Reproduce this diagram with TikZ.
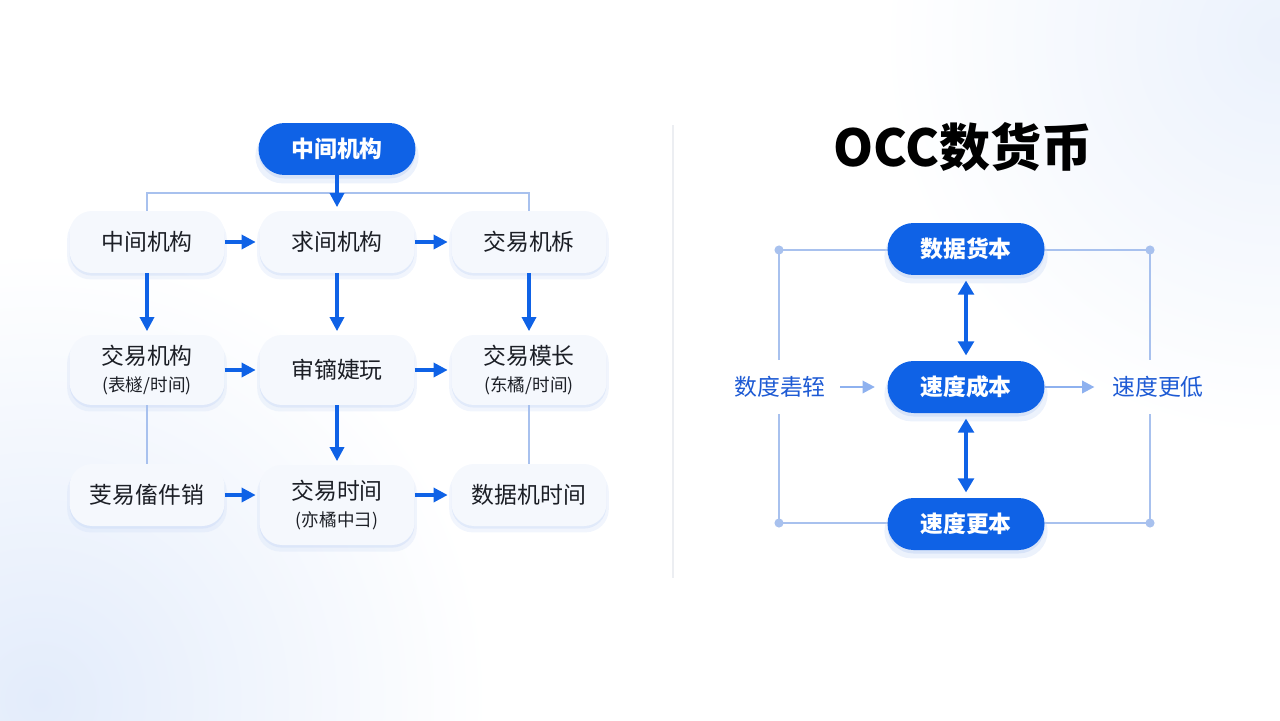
\documentclass[tikz,border=0pt]{standalone}
\usepackage{fontspec}
\setmainfont{Noto Sans CJK SC}
\usepackage{xcolor}
\usetikzlibrary{positioning,arrows.meta,shadows,backgrounds}
\definecolor{deepblue}{HTML}{0F62E6}
\definecolor{inkdark}{HTML}{1C1F26}
\definecolor{softfill}{HTML}{F5F8FD}
\definecolor{shadeblue}{HTML}{C9D9F6}
\definecolor{paleline}{HTML}{A8C1EE}
\definecolor{palearrow}{HTML}{8EB1EF}
\definecolor{labelblue}{HTML}{1D5AD4}
\definecolor{tintblue}{HTML}{E3ECFB}
\definecolor{divgray}{HTML}{ECEEF2}
\newcommand{\subfont}{\fontsize{10}{12}\selectfont}

\begin{document}
\begin{tikzpicture}[x=0.02cm, y=-0.02cm,
  pill/.style={fill=deepblue, text=white, rounded corners=0.52cm,
    minimum width=3.14cm, minimum height=1.04cm,
    font=\fontsize{13}{15}\selectfont\bfseries,
    drop shadow={shadow xshift=0pt, shadow yshift=-4pt, shadow scale=1.04, fill=shadeblue, opacity=.35},
    drop shadow={shadow xshift=0pt, shadow yshift=-2pt, fill=shadeblue, opacity=.6}},
  softbox/.style={fill=softfill, rounded corners=0.45cm, text=inkdark,
    minimum width=3.1cm, minimum height=1.24cm, align=center,
    font=\fontsize{13}{17}\selectfont,
    drop shadow={shadow xshift=0pt, shadow yshift=-3pt, shadow scale=1.03, fill=shadeblue, opacity=.25},
    drop shadow={shadow xshift=0pt, shadow yshift=-1.5pt, fill=shadeblue, opacity=.4}},
  sidelabel/.style={text=labelblue, font=\fontsize{13}{15}\selectfont,
    inner xsep=2pt, inner ysep=9pt},
  bluearrow/.style={draw=deepblue, line width=1.8pt,
    -{Triangle[length=8pt,width=8pt]}, shorten >=2pt},
  palearrowline/.style={draw=palearrow, line width=1.4pt,
    -{Triangle[length=7pt,width=7pt]}},
  thinline/.style={draw=paleline, line width=1pt},
  frameline/.style={draw=paleline, line width=1.2pt}]
\useasboundingbox (0,0) rectangle (1280,720);

% left tree
\node[pill] (hub) at (337,149) {中间机构};
\node[softbox] (a1) at (147,242) {中间机构};
\node[softbox] (a2) at (337,242) {求间机构};
\node[softbox] (a3) at (529,242) {交易机柝};
\node[softbox, minimum height=1.4cm] (b1) at (147,370) {交易机构\\[-2pt]{\subfont(表檖/时间)}};
\node[softbox, minimum height=1.4cm] (b2) at (337,370) {审镝婕玩};
\node[softbox, minimum height=1.4cm] (b3) at (529,370) {交易模长\\[-2pt]{\subfont(东橘/时间)}};
\node[softbox] (c1) at (147,495) {芰易傗件销};
\node[softbox, minimum height=1.6cm] (c2) at (337,505) {交易时间\\[-2pt]{\subfont(亦橘中彐)}};
\node[softbox] (c3) at (529,495) {数据机时间};

\coordinate (barL) at (147,193);
\coordinate (barR) at (529,193);
\draw[thinline] (a1.north) -- (barL) -- (barR) -- (a3.north);
\draw[bluearrow] (hub) -- (a2);
\draw[bluearrow] (a1) -- (a2);
\draw[bluearrow] (a2) -- (a3);
\draw[bluearrow] (a1) -- (b1);
\draw[bluearrow] (a2) -- (b2);
\draw[bluearrow] (a3) -- (b3);
\draw[bluearrow] (b1) -- (b2);
\draw[bluearrow] (b2) -- (b3);
\draw[thinline] (b1) -- (c1);
\draw[bluearrow] (b2) -- (c2);
\draw[thinline] (b3) -- (c3);
\draw[bluearrow] (c1) -- (c1 -| c2.west);
\draw[bluearrow] (c2.east |- c3) -- (c3);

% divider
\draw[divgray, line width=0.8pt] (673,125) -- (673,578);

% right side
\node[text=black, font=\fontsize{29}{33}\selectfont\bfseries] (title) at (963,147) {OCC数货币};
\node[pill] (r1) at (966,249) {数据货本};
\node[pill] (r2) at (966,387) {速度成本};
\node[pill] (r3) at (966,524) {速度更本};
\node[sidelabel] (lin) at (780,387) {数度砉轾};
\node[sidelabel] (lout) at (1158,387) {速度更低};

\coordinate (f1) at (779,250);
\coordinate (f2) at (1150,250);
\coordinate (f3) at (1150,523);
\coordinate (f4) at (779,523);

\draw[bluearrow, {Triangle[length=8pt,width=9pt]}-{Triangle[length=8pt,width=9pt]}, shorten <=3pt, shorten >=3pt] (r1) -- (r2);
\draw[bluearrow, {Triangle[length=8pt,width=9pt]}-{Triangle[length=8pt,width=9pt]}, shorten <=3pt, shorten >=3pt] (r2) -- (r3);
\draw[palearrowline, shorten <=6pt, shorten >=7pt] (lin) -- (r2);
\draw[palearrowline, shorten >=8pt] (r2) -- (lout);

\begin{scope}[on background layer]
  \begin{scope}
    \clip (0,0) rectangle (1280,720);
    \shade[inner color=tintblue, outer color=white] (40,700) circle (9cm);
    \shade[inner color=tintblue!70, outer color=white] (1280,40) circle (8cm);
  \end{scope}
  \draw[frameline] (f1 |- lin.north) -- (f1) -- (f2) -- (f2 |- lout.north);
  \draw[frameline] (f4 |- lin.south) -- (f4) -- (f3) -- (f3 |- lout.south);
  \foreach \c in {f1,f2,f3,f4} \fill[paleline] (\c) circle (2.6pt);
\end{scope}
\end{tikzpicture}
\end{document}
